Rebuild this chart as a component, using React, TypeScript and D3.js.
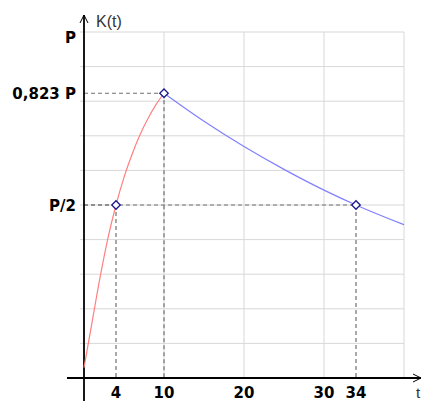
import React from 'react';
import * as d3 from 'd3';

// rising part K(t)/P, t = 0..10
const riseT = [0, 1, 2, 3, 4, 5, 6, 7, 8, 9, 10];
const riseK = [0.03, 0.16, 0.29, 0.405, 0.5, 0.58, 0.646, 0.703, 0.75, 0.79, 0.823];
// falling part K(t)/P, t = 10..40
const fallT = [10, 15, 20, 25, 30, 34, 35, 40];
const fallK = [0.823, 0.742, 0.669, 0.603, 0.543, 0.5, 0.49, 0.443];
// marked points
const markT = [4, 10, 34];
const markK = [0.5, 0.823, 0.5];
const xTicks = [4, 10, 20, 30, 34];
const xGrid = [10, 20, 30, 40];
const yGrid = [0.1, 0.2, 0.3, 0.4, 0.5, 0.6, 0.7, 0.8, 0.9, 1];
const yLabels = [
  { v: 1, text: 'P' },
  { v: 0.823, text: '0,823 P' },
  { v: 0.5, text: 'P/2' },
];

const W = 423;
const H = 401;

const App = () => {
  const x = d3.scaleLinear().domain([0, 40]).range([84, 404]);
  const y = d3.scaleLinear().domain([0, 1]).range([378, 32]);

  const line = d3
    .line<[number, number]>()
    .x((d) => x(d[0]))
    .y((d) => y(d[1]))
    .curve(d3.curveMonotoneX);

  const rise = line(riseT.map((t, i) => [t, riseK[i]]));
  const fall = line(fallT.map((t, i) => [t, fallK[i]]));

  const x0 = x(0);
  const y0 = y(0);
  const bold = '"DejaVu Sans", Verdana, sans-serif';
  const plain = '"Liberation Sans", Arial, sans-serif';

  return (
    <svg
      width={W}
      height={H}
      style={{ position: 'absolute', left: 0, top: 0, background: '#fff' }}
    >
      {/* grid */}
      <g stroke="#d8d8d8" strokeWidth={1}>
        {yGrid.map((v) => (
          <line key={'h' + v} x1={x0 - 4} x2={x(40)} y1={y(v)} y2={y(v)} />
        ))}
        {xGrid.map((t) => (
          <line key={'v' + t} x1={x(t)} x2={x(t)} y1={y(1)} y2={y0} />
        ))}
      </g>

      {/* dashed guides */}
      <g stroke="#707070" strokeWidth={1.2} strokeDasharray="4,3">
        {markT.map((t, i) => (
          <g key={'d' + t}>
            <line x1={x0} x2={x(t)} y1={y(markK[i])} y2={y(markK[i])} />
            <line x1={x(t)} x2={x(t)} y1={y(markK[i])} y2={y0} />
          </g>
        ))}
      </g>

      {/* axes */}
      <g stroke="#000" strokeWidth={1.8} fill="none">
        <line x1={67} x2={421} y1={y0} y2={y0} />
        <line x1={x0} x2={x0} y1={15} y2={H} />
        <polyline points={`${x0 - 4},23 ${x0},15 ${x0 + 4},23`} strokeWidth={1} />
        <polyline points={`413,${y0 - 4} 421,${y0} 413,${y0 + 4}`} strokeWidth={1} />
      </g>

      {/* curves */}
      <path d={rise ?? ''} fill="none" stroke="#ff8080" strokeWidth={1.2} />
      <path d={fall ?? ''} fill="none" stroke="#8080ff" strokeWidth={1.2} />

      {/* markers */}
      {markT.map((t, i) => (
        <rect
          key={'m' + t}
          x={-3}
          y={-3}
          width={6}
          height={6}
          fill="#fff"
          stroke="#1a1a8c"
          strokeWidth={1.3}
          transform={`translate(${x(t)},${y(markK[i])}) rotate(45)`}
        />
      ))}

      {/* labels */}
      <g fontFamily={bold} fontWeight="bold" fontSize={15} fill="#000">
        {yLabels.map((l) => (
          <text
            key={l.text}
            x={x0 - 8}
            y={y(l.v) + (l.v === 1 ? 11 : 6)}
            textAnchor="end"
          >
            {l.text}
          </text>
        ))}
        {xTicks.map((t) => (
          <text key={'t' + t} x={x(t)} y={398} textAnchor="middle">
            {t}
          </text>
        ))}
      </g>
      <text x={96} y={27} fontFamily={plain} fontSize={16} fill="#333">
        K(t)
      </text>
      <text x={416} y={398} fontFamily={plain} fontSize={15} fill="#333">
        t
      </text>
    </svg>
  );
};

export default App;
